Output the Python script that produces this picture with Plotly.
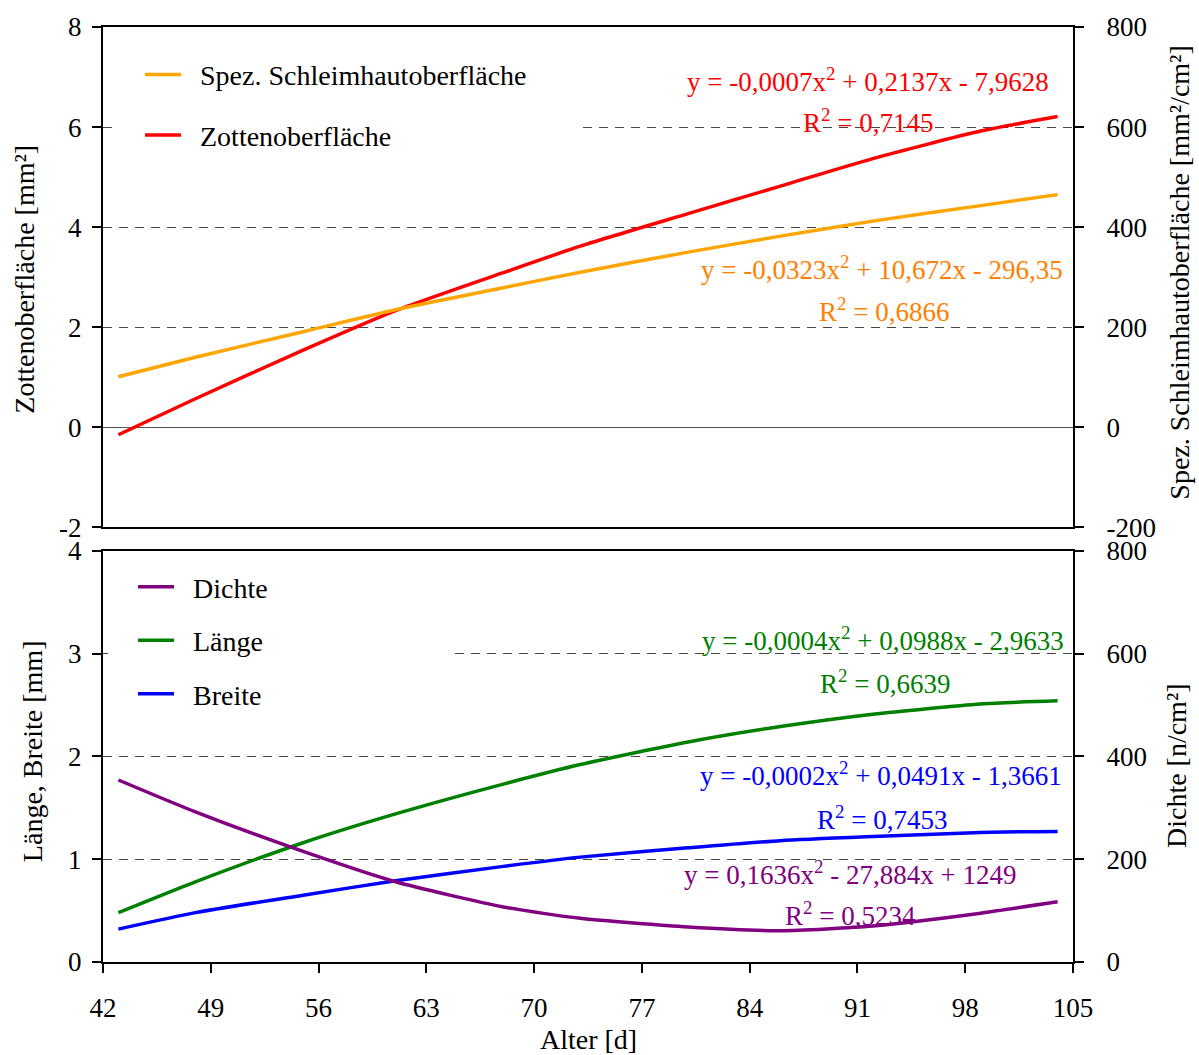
import plotly.graph_objects as go

# Age in days at which the curves were sampled
alter = [43, 48, 55, 61, 68, 73, 80, 86, 92, 99, 104]

# Upper panel
zottenoberflaeche = [-0.15, 0.57, 1.54, 2.33, 3.09, 3.62, 4.27, 4.82, 5.37, 5.92, 6.21]      # mm²
schleimhautoberflaeche = [101, 140, 191, 235, 279, 310, 350, 382, 412, 443, 465]            # mm²/cm²

# Lower panel
laenge = [0.48, 0.78, 1.16, 1.44, 1.73, 1.92, 2.14, 2.29, 2.41, 2.51, 2.54]                  # mm
breite = [0.32, 0.48, 0.65, 0.79, 0.93, 1.02, 1.11, 1.18, 1.22, 1.26, 1.27]                  # mm
dichte = [354, 292, 215, 156, 107, 85, 68, 61, 70, 95, 117]                                  # n/cm²

x_ticks = [42, 49, 56, 63, 70, 77, 84, 91, 98, 105]
y_top_left = [-2, 0, 2, 4, 6, 8]
y_top_right = [-200, 0, 200, 400, 600, 800]

FONT = "Liberation Serif"
W, H = 1199, 1055
ML, MR, MT, MB = 103, 126, 22, 93
PW, PH = W - ML - MR, H - MT - MB
TOP_T, TOP_B = 22, 525        # pixel rows of the upper plot area
BOT_T, BOT_B = 548.5, 962     # pixel rows of the lower plot area
X_RANGE = [42, 105]
TOP_RANGE = [-2, 8]
BOT_RANGE = [0, 4]


def fx(p):
    """pixel column -> paper x"""
    return (p - ML) / PW


def fy(p):
    """pixel row -> paper y"""
    return (H - MB - p) / PH


def dx(p):
    """pixel column -> day"""
    return X_RANGE[0] + fx(p) * (X_RANGE[1] - X_RANGE[0])


def dy(p, top, bottom, rng):
    """pixel row -> value on a panel's left axis"""
    return rng[0] + (bottom - p) / (bottom - top) * (rng[1] - rng[0])


ORANGE = "#FFA500"
ORANGE_TXT = "#FF8000"
RED = "#FF0000"
GREEN = "#008000"
BLUE = "#0000FF"
PURPLE = "#800080"
LW = 3.5
PAD = "\u00a0\u00a0"   # gap between legend line sample and label

fig = go.Figure()

series = [
    (schleimhautoberflaeche, "Spez. Schleimhautoberfläche", ORANGE, "x2", "y4", "legend"),
    (zottenoberflaeche, "Zottenoberfläche", RED, "x2", "y3", "legend"),
    (dichte, "Dichte", PURPLE, "x", "y2", "legend2"),
    (laenge, "Länge", GREEN, "x", "y", "legend2"),
    (breite, "Breite", BLUE, "x", "y", "legend2"),
]
for vals, name, col, xa, ya, leg in series:
    fig.add_trace(go.Scatter(x=alter, y=vals, name=PAD + name, mode="lines",
                             line=dict(color=col, width=LW, shape="spline", smoothing=0.6),
                             xaxis=xa, yaxis=ya, legend=leg, legendgroup=name))

tickfont = dict(family=FONT, size=27, color="black")
grid = dict(showgrid=True, gridcolor="#444444", gridwidth=1, griddash="9px,7px")
axline = dict(showline=True, linecolor="black", linewidth=2)
tk = dict(ticks="outside", ticklen=9, tickwidth=1.5, tickcolor="black", tickfont=tickfont)

top_dom = [fy(TOP_B), 1.0]
bot_dom = [0.0, fy(BOT_T)]

fig.update_layout(
    width=W, height=H,
    margin=dict(l=ML, r=MR, t=MT, b=MB),
    paper_bgcolor="white", plot_bgcolor="white",
    font=dict(family=FONT, color="black"),
    xaxis=dict(domain=[0, 1], range=X_RANGE, anchor="y", tickvals=x_ticks,
               ticklabelstandoff=12, mirror=True, showgrid=False, zeroline=False, **tk, **axline),
    xaxis2=dict(domain=[0, 1], matches="x", anchor="y3", showticklabels=False,
                ticks="", mirror=True, showgrid=False, zeroline=False, **axline),
    yaxis=dict(domain=bot_dom, range=BOT_RANGE, dtick=1, anchor="x",
               ticklabelstandoff=5, zeroline=False, **tk, **grid, **axline),
    yaxis2=dict(domain=bot_dom, range=[0, 800], dtick=200, overlaying="y", side="right",
                anchor="x", ticklabelstandoff=17, showgrid=False, zeroline=False, **tk, **axline),
    yaxis3=dict(domain=top_dom, range=TOP_RANGE, tickvals=y_top_left,
                ticktext=[str(v) for v in y_top_left], anchor="x2",
                ticklabelstandoff=5, zeroline=True, zerolinecolor="#555555", zerolinewidth=1,
                **tk, **grid, **axline),
    yaxis4=dict(domain=top_dom, range=[-200, 800], tickvals=y_top_right,
                ticktext=[str(v) for v in y_top_right], overlaying="y3", side="right",
                anchor="x2", ticklabelstandoff=17, showgrid=False, zeroline=False, **tk, **axline),
    legend=dict(x=fx(140), y=fy(45), xanchor="left", yanchor="top", bgcolor="white",
                font=dict(family=FONT, size=28, color="black"), tracegroupgap=21,
                itemwidth=36, traceorder="grouped"),
    legend2=dict(x=fx(133), y=fy(560), xanchor="left", yanchor="top", bgcolor="white",
                 font=dict(family=FONT, size=28, color="black"), tracegroupgap=14,
                 itemwidth=36, traceorder="grouped"),
    showlegend=True,
)

# White legend panels that mask the gridlines behind each legend
fig.add_shape(type="rect", xref="x2", yref="y3", layer="between",
              x0=dx(112), x1=dx(580),
              y0=dy(170, TOP_T, TOP_B, TOP_RANGE), y1=dy(35, TOP_T, TOP_B, TOP_RANGE),
              fillcolor="white", line=dict(width=0))
fig.add_shape(type="rect", xref="x", yref="y", layer="between",
              x0=dx(108), x1=dx(455),
              y0=dy(720, BOT_T, BOT_B, BOT_RANGE), y1=dy(560, BOT_T, BOT_B, BOT_RANGE),
              fillcolor="white", line=dict(width=0))

# Axis titles
titles = [
    ("Zottenoberfläche [mm²]", 25, 276, -90),
    ("Länge, Breite [mm]", 32, 750, -90),
    ("Spez. Schleimhautoberfläche [mm²/cm²]", 1180, 269, -90),
    ("Dichte [n/cm²]", 1176, 765, -90),
    ("Alter [d]", 588, 1040, 0),
]
for text, px_, py_, ang in titles:
    fig.add_annotation(text=text, x=fx(px_), y=fy(py_), xref="paper", yref="paper",
                       showarrow=False, textangle=ang, xanchor="center", yanchor="middle",
                       font=dict(family=FONT, size=28, color="black"))

# Trend line equations
equations = [
    ("y = -0,0007x<sup>2</sup> + 0,2137x - 7,9628", 868, 75, RED),
    ("R<sup>2</sup> = 0,7145", 868, 117, RED),
    ("y = -0,0323x<sup>2</sup> + 10,672x - 296,35", 882, 264, ORANGE_TXT),
    ("R<sup>2</sup> = 0,6866", 884, 307, ORANGE_TXT),
    ("y = -0,0004x<sup>2</sup> + 0,0988x - 2,9633", 883, 637, GREEN),
    ("R<sup>2</sup> = 0,6639", 885, 681, GREEN),
    ("y = -0,0002x<sup>2</sup> + 0,0491x - 1,3661", 881, 773, BLUE),
    ("R<sup>2</sup> = 0,7453", 882, 817, BLUE),
    ("y = 0,1636x<sup>2</sup> - 27,884x + 1249", 850, 873, PURPLE),
    ("R<sup>2</sup> = 0,5234", 850, 914, PURPLE),
]
for text, px_, py_, col in equations:
    fig.add_annotation(text=text, x=fx(px_), y=fy(py_), xref="paper", yref="paper",
                       showarrow=False, xanchor="center", yanchor="middle",
                       font=dict(family=FONT, size=27, color=col))

fig.write_html("out.html")
